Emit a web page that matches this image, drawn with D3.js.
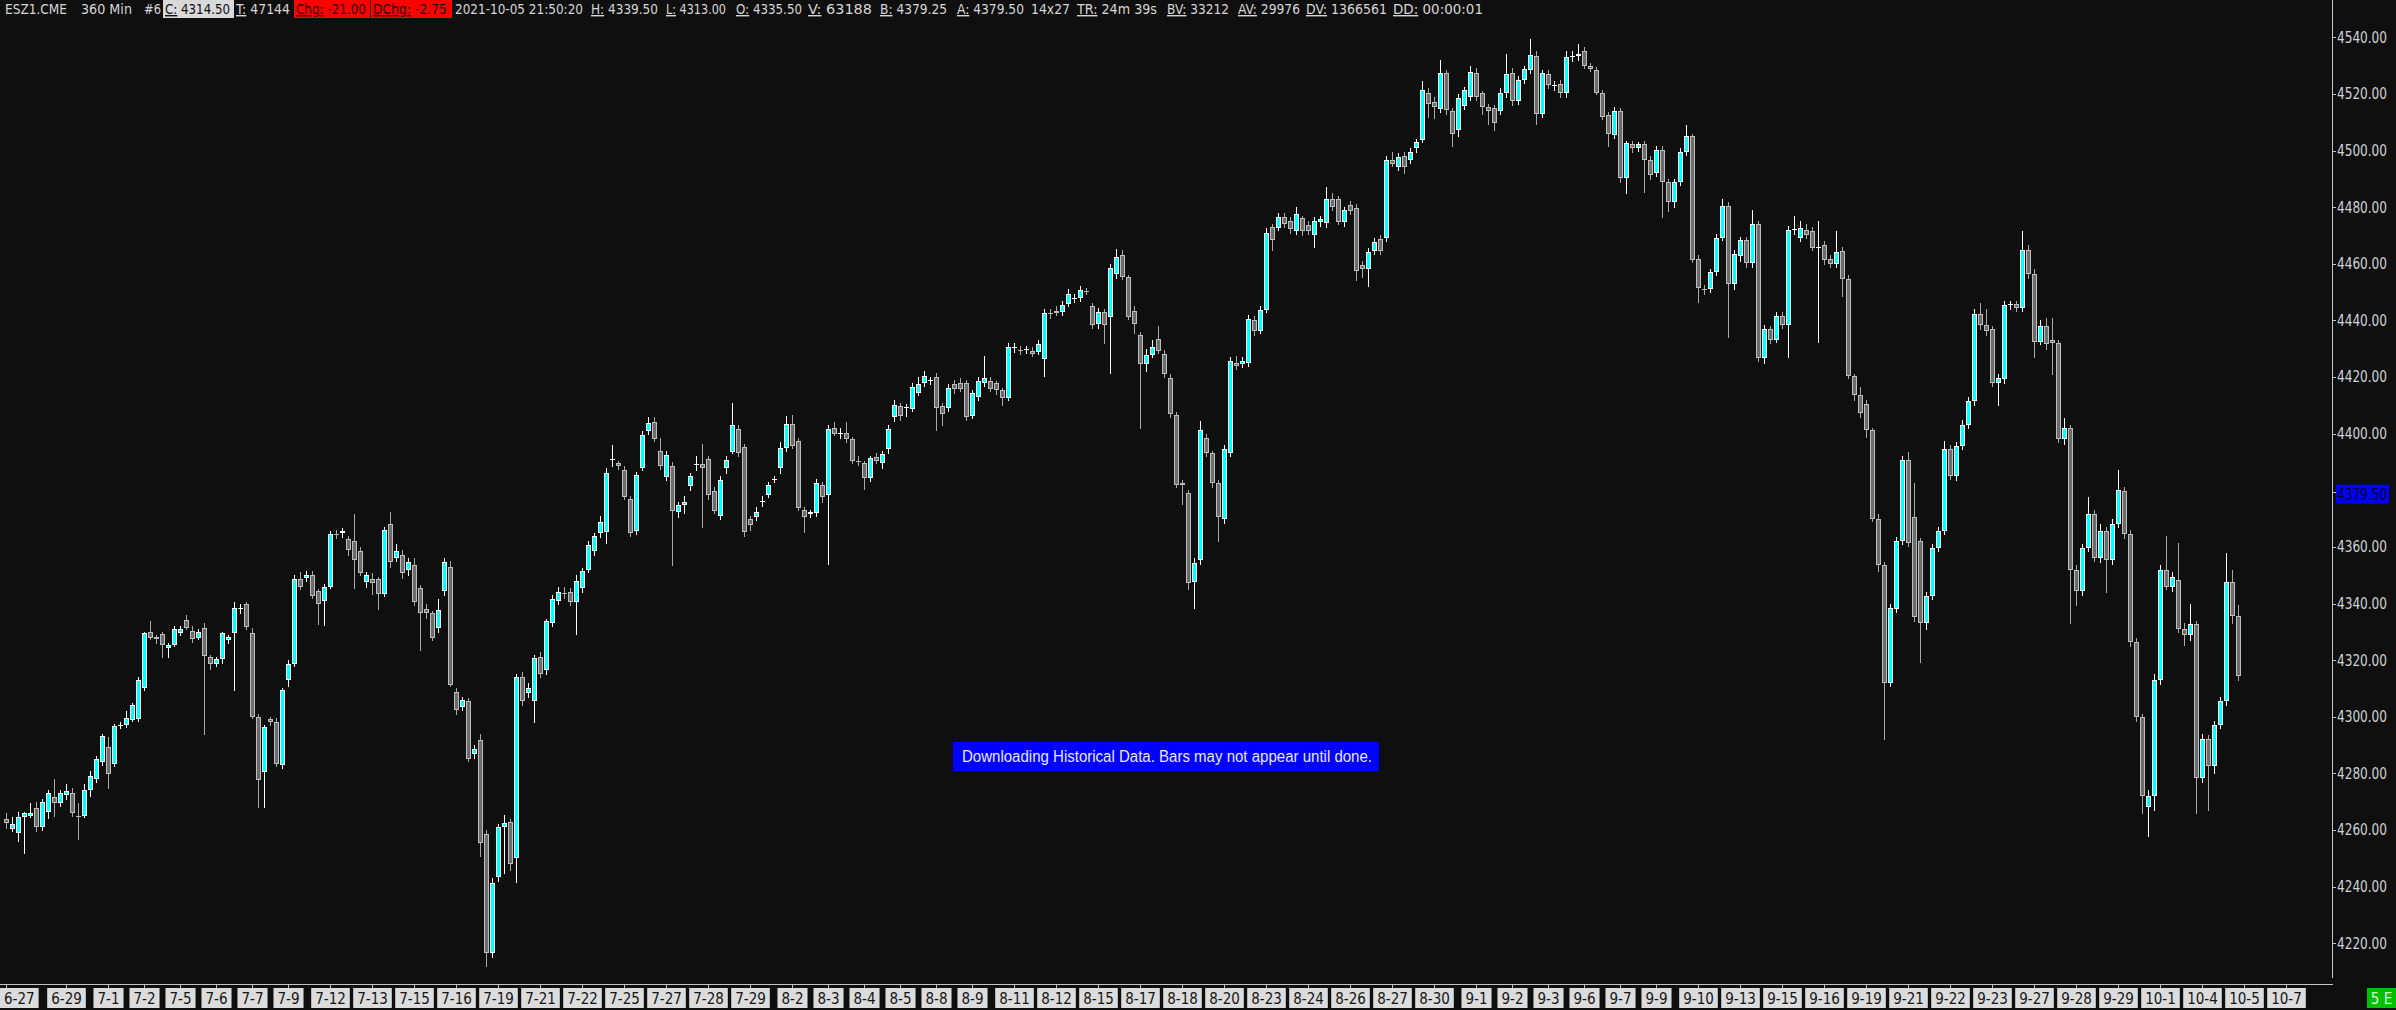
<!DOCTYPE html>
<html><head><meta charset="utf-8">
<script src="https://cdn.jsdelivr.net/npm/d3@7"></script>
<style>
html,body{margin:0;padding:0;background:#0f0f0f;overflow:hidden}
svg{display:block}
</style></head><body>
<script>
// ---------- DATA ----------
const opens = [4264,4260.25,4259,4264.5,4265,4267.75,4261,4266.5,4271.5,4269.5,4272.5,4273.25,4265,4265,4274.25,4278,4284,4289.25,4283.5,4296.75,4297,4299,4299.25,4310,4330,4328.25,4329.25,4324.25,4325.5,4329.5,4334.25,4330.25,4328,4331.5,4321,4318.75,4320.5,4327.25,4329.5,4338.25,4339.75,4329.75,4300,4280.5,4299.25,4298.25,4283,4313,4318.75,4348.75,4349,4350,4344.5,4340.75,4346,4364.5,4365,4362.75,4362.25,4358.5,4347.75,4348.5,4348.5,4343.5,4368,4356.25,4357,4351.75,4353.5,4345.5,4338.25,4336.5,4331.5,4344.5,4353,4308.75,4303.5,4305.5,4286.75,4291.75,4258.75,4216.5,4243.5,4261.25,4263,4250.25,4314,4308.5,4305.5,4321,4316.5,4333.25,4341,4343.75,4344,4340.5,4345.5,4351.75,4358.5,4364.75,4365.25,4390.75,4389.5,4387,4377,4365.5,4387.75,4401,4404.25,4394,4384.75,4388.75,4372.25,4374.75,4381.5,4389,4389.25,4391,4379.75,4371,4387.75,4393.5,4401.75,4395.25,4370,4370.5,4376,4378.5,4383.75,4387.75,4395,4403.5,4397.5,4373,4371.75,4372,4381.75,4378.5,4402,4400,4400.25,4398.25,4390.5,4389.5,4384.25,4391.75,4389.5,4394.5,4405.75,4409.75,4409,4408.75,4414.5,4418,4418.75,4420,4409.75,4409,4417.5,4417.75,4417.75,4406.25,4413,4417.75,4418.75,4417.75,4415.25,4412.75,4430.25,4429.5,4429.5,4429.25,4428.75,4426.25,4442.75,4443.5,4443,4445.75,4447.75,4447.75,4450.5,4445,4438.75,4443,4441.25,4456.25,4463,4455.5,4443.5,4435,4424.75,4427.75,4433.5,4428.25,4419.5,4406.5,4382.5,4379,4347.5,4355.5,4398.5,4393,4382.5,4370,4393,4425,4424.5,4425,4440,4436.25,4443.75,4473,4472.5,4476.5,4475,4471.5,4476.25,4473.75,4470,4474.75,4474.25,4482.75,4482.75,4474.75,4480.75,4479.75,4459.5,4458,4464.5,4468.75,4469,4496.75,4494.25,4498,4496.5,4500.75,4503.75,4520.5,4517,4514.5,4527.25,4514,4507.25,4515.75,4519,4527.25,4520.25,4515.25,4515,4514,4520.25,4527.25,4517.5,4525,4528.5,4533.5,4513,4527,4523,4523.5,4520.25,4533,4533.5,4535.25,4530,4528.5,4520.5,4512.5,4505.5,4514,4490.25,4502.25,4500.75,4502.25,4496.75,4492,4500.25,4488.75,4481.75,4488.75,4499.5,4505,4461.75,4451,4451,4457,4469.25,4480.5,4452.75,4462.75,4468.25,4460.25,4474,4426.75,4437,4433.25,4441.5,4438.5,4472,4469.25,4472,4471.5,4465.75,4466.5,4461.75,4460,4464.5,4454.75,4420.25,4413.75,4410.5,4401.25,4370,4353.5,4312,4338.25,4362,4390.75,4370.5,4362,4333,4342.75,4359.75,4365.5,4394.75,4385,4395.75,4403,4411.5,4442.25,4438.5,4437,4418,4419.25,4445.5,4445.75,4444.5,4465,4456.5,4432.5,4438,4433.25,4432,4398,4402,4352,4344.5,4359.75,4371.5,4356,4365.5,4355.5,4368.25,4379.75,4364.5,4326.5,4300,4268.25,4272,4313,4352,4346,4348.25,4331,4328.75,4332.75,4278.5,4292,4282.75,4297,4305.5,4347.5,4335.5];
const highs = [4266,4264.5,4266.5,4266.25,4269.5,4270,4271,4274,4278,4274,4276.25,4274.75,4269.5,4276.25,4280.75,4286,4294,4293,4297.5,4298,4302,4305,4314,4330,4334,4329,4330,4326,4332,4332,4336,4332,4331,4333,4322,4321,4330,4329,4340.5,4340,4340.5,4331.5,4301,4297,4300,4299.5,4310,4320,4350,4351,4351.5,4351.5,4345,4347,4365.5,4366,4366.75,4364,4371.5,4360,4351,4350.75,4349.5,4367,4372.5,4361,4359,4356,4356,4346.5,4340,4337.5,4341.75,4356,4355,4310,4307,4306.5,4290,4294,4260,4243,4262,4265.25,4264,4315,4316,4312,4322,4323,4334.5,4343,4346,4346,4345.5,4350,4352.5,4362,4365,4371,4388,4396,4390.5,4388.5,4378,4386.5,4401,4405.75,4406,4398.5,4394,4390,4376,4378,4386,4392.25,4396.25,4392,4381,4385,4392,4410.75,4403,4396.5,4371,4374,4378,4383,4385,4397,4406.25,4406.75,4398.5,4374,4373,4384,4383,4403,4404,4402,4404,4399,4392,4390.5,4392,4393,4394,4403,4412,4411,4410.5,4418,4420,4422,4420,4421.5,4411,4417.5,4419,4419.5,4419,4415.5,4420,4427.5,4420,4418.5,4416,4432,4432,4431,4431,4430.5,4433.25,4444,4444,4445,4447,4451,4449.5,4452,4451.5,4446,4444.5,4444,4460,4465.25,4465,4456,4445,4436,4430,4433,4438,4429.5,4421,4407.5,4383.5,4380,4356,4404.5,4400,4394,4383.5,4396,4427,4427.5,4427,4442,4441.5,4445,4472.5,4474,4478,4478,4476.5,4480,4477,4475,4476.5,4477,4487.25,4485,4484,4480,4482.25,4481,4461,4465.5,4469,4470,4498,4499.5,4499,4499.5,4501,4504,4524.5,4522,4519,4532,4528.5,4515,4520,4522.5,4530,4529,4521,4516.5,4516,4522,4534.25,4529,4526.5,4530,4539.5,4535,4528.5,4528.5,4524.5,4525,4535,4535,4537.5,4536.5,4531,4529.5,4521.5,4513.5,4515.5,4515,4503.5,4503.5,4503,4503.5,4498,4501.5,4501.5,4490,4490,4501,4509,4506,4463,4452.5,4458,4470.5,4482.75,4482,4465,4469.5,4469.5,4479,4475,4438.5,4438,4443,4443,4473.5,4477,4475,4474,4473,4475,4468,4463,4471.5,4466,4456,4421,4416.5,4412,4402,4371.5,4354.5,4340,4363.5,4392,4393.5,4382.75,4363,4344,4361,4367,4397.25,4396,4397,4405,4413,4444,4446,4444,4438,4421,4447,4447,4447,4471.5,4466.5,4458,4440,4441,4440.75,4433,4405.5,4403,4353.5,4361,4377.5,4373,4368,4367,4370,4387.25,4381,4366,4328,4301,4274,4315,4353.5,4364,4351,4361.25,4333,4340,4334,4294,4293.5,4298.5,4307,4358,4352,4339.5];
const lows = [4260.75,4259.75,4256.25,4252,4264.5,4259.75,4260,4264.25,4265,4268.5,4271,4265,4257,4264.5,4272,4277,4283,4274.75,4282.5,4296,4296.5,4298.5,4298.5,4309.5,4327.5,4326,4321,4321,4325,4329,4331,4326.5,4327.5,4293.75,4317,4318,4319,4326,4309.5,4336.5,4331,4299.5,4268.25,4268.25,4297,4282.5,4282,4311,4318,4345,4348,4342,4332.75,4332.5,4345.5,4363,4363.5,4357,4345.5,4350,4346,4343.25,4338.25,4342.5,4353,4355,4349,4350,4339.5,4323.75,4335,4327,4330,4343,4311,4301,4302.5,4284.5,4285.5,4251,4212,4215,4242,4245,4245.75,4241.5,4304,4307,4298.25,4314,4315,4332,4340,4342,4339.5,4329.25,4344,4351,4357,4363.5,4361.5,4388.5,4387.5,4377,4364,4364.5,4387,4400,4397.5,4387.5,4383.5,4353.5,4370.5,4372,4380,4387,4367,4377,4372,4370,4386,4393,4392,4364,4366,4369.5,4374.5,4377.5,4383,4386,4394,4395,4373,4365.25,4370.5,4371,4376,4354,4399.5,4398.5,4397,4389.5,4389,4380.5,4383.25,4389.5,4388,4393,4404.5,4405,4406.25,4408,4413.5,4417,4417.5,4401.25,4403,4408,4414.5,4415,4405,4405.5,4412,4417,4415,4414,4410.25,4412,4429,4428,4428.5,4427.5,4428,4420.25,4441,4442,4442,4445,4446.5,4447,4449.5,4437.5,4437.5,4432,4421.5,4455,4454.5,4440.5,4435.5,4402,4422,4427,4428.5,4420,4406,4381,4375.25,4345,4338.5,4354,4392,4381,4362.25,4368.5,4392,4423,4423.5,4424,4435,4435.5,4443,4465,4472,4473,4471,4470.5,4470,4470.5,4466,4473.5,4473,4479,4474,4473.5,4477.5,4454.25,4455.25,4452,4463.5,4463.5,4468,4494.5,4493,4492,4495.5,4499.5,4503,4512,4511.5,4513.5,4513,4501.75,4505,4514.5,4518,4518,4513,4509.25,4507.25,4513,4519,4516,4516.5,4524,4527.5,4509.5,4512,4522,4521.5,4519,4519,4531.5,4532,4529,4528,4520,4511,4501.75,4504.5,4489,4485,4499.5,4500,4485.5,4490,4491,4476.5,4478.5,4480,4488,4498.5,4460.5,4446.5,4449.5,4450,4456,4468.5,4434,4451,4461,4459,4459,4425.5,4425,4432,4432.5,4437.5,4427.25,4470.5,4468,4469,4465,4432.5,4460,4459,4459,4448.75,4419.5,4412,4406,4399,4369,4351.5,4292,4311,4337,4361,4360.5,4334,4319.5,4331,4341.5,4358.5,4364.5,4384,4383.5,4394.5,4402,4410,4437,4435,4417,4410,4418,4444,4443.5,4443.5,4455,4427.25,4431.5,4430,4421,4397,4396.5,4333,4339.5,4343,4358.5,4355,4354.5,4344,4354,4367,4363,4325,4298.5,4266,4257.75,4267,4311.5,4345,4344.5,4330,4325.5,4327,4266,4277,4267.25,4280,4296,4304,4333,4313];
const closes = [4262.5,4262,4264.5,4266,4266,4261,4270,4273,4269.5,4273.25,4273.75,4266,4264.75,4274.25,4279,4285,4293.25,4279.75,4296.75,4297,4299.5,4304,4313,4329.5,4328,4327.5,4325.5,4325.25,4331,4331,4331.5,4327.5,4330,4321.5,4318.75,4320.25,4329.5,4328.25,4338.5,4338.5,4331.75,4300,4277.75,4296.25,4298.25,4283.25,4309.5,4318.75,4348.75,4346,4350.25,4342.75,4339.75,4346,4364.5,4364.25,4365.5,4358.75,4355.25,4350.75,4350.25,4347.25,4343.5,4366,4354.5,4358.5,4350.75,4354.75,4340.5,4336.5,4336.75,4327.75,4337.75,4354.75,4311.25,4302.25,4306,4285,4288.5,4255.5,4216.75,4241.25,4261.25,4262.5,4248,4314,4305.75,4310,4320.75,4315.25,4333.75,4341.5,4344.25,4343.5,4340.5,4348,4351.5,4360.75,4364,4368.75,4386,4391,4388.75,4377.5,4365,4385.5,4399.5,4403.75,4398.25,4388.75,4392.5,4372.75,4374.75,4375.75,4385,4389.25,4388,4378.25,4372.75,4383.5,4390.75,4403,4393.25,4365.25,4367.75,4372.5,4376.25,4382,4384,4395,4403.5,4395.5,4373.75,4370.5,4372.5,4382.5,4377.5,4401.75,4400,4400.25,4398,4390.5,4390.25,4384.25,4391.25,4390.5,4392.75,4401.75,4410,4406.25,4409.25,4416.5,4417.5,4420.25,4419,4409,4407,4416.25,4415.75,4415.75,4406,4414.25,4418.75,4419.75,4415.75,4415.25,4412.5,4430.5,4430.5,4429.25,4429.75,4428.25,4431.5,4442.75,4442.5,4442.75,4445.5,4449.5,4448,4450.75,4450.25,4438.25,4443,4438.25,4458.5,4462.5,4455.5,4441.25,4438.75,4424.75,4427.75,4430.75,4429.25,4421,4407,4381.75,4381.75,4347.25,4354.25,4401.25,4393,4382.5,4370.5,4394.75,4425.5,4424,4425.5,4440.5,4436.25,4443.75,4471,4468.25,4476.5,4474,4472.25,4477.5,4471.5,4471.5,4475.25,4475.75,4482.75,4480,4474.75,4479,4478.5,4457.5,4458,4464.25,4467.75,4464.5,4496.5,4495.25,4497.75,4494.25,4499.5,4503,4521.25,4516.5,4515.5,4527.25,4514.25,4506,4518.5,4521.25,4527.75,4519,4515.5,4514,4509.75,4520.5,4527,4517.5,4525,4528.75,4533.75,4513,4527.25,4523,4523.25,4520.25,4533,4533.25,4534,4530,4528.75,4520.5,4512,4506,4514,4490.25,4502.5,4500.75,4502.25,4496.75,4491.5,4500.25,4488.75,4481.75,4488.75,4499.5,4505,4461.25,4451.5,4450.75,4457,4469.25,4480.5,4452.75,4463.5,4468.25,4460.25,4474,4426.75,4437,4433.25,4441.5,4438.5,4472,4472.25,4472.5,4470,4465.75,4466,4461.25,4460,4464,4454.75,4420.25,4413.75,4407.25,4401.25,4370,4353.5,4312,4338.5,4362,4390.75,4361.25,4335.25,4333,4342.75,4359.75,4365.5,4394.75,4385,4395.75,4403,4411.5,4442.25,4438.5,4436.25,4418,4419.5,4445.5,4445.75,4444.5,4465,4456.5,4432.5,4438,4431.5,4432,4398,4402,4352,4344.5,4359.75,4371.5,4356.25,4365.5,4355.5,4368.25,4380,4364.5,4326.5,4300,4272,4272,4313,4352,4346,4349.25,4331,4328.75,4332.75,4278.5,4292,4282.75,4297,4305.5,4347.5,4335.5,4314.5];

const yTicks = [4220,4240,4260,4280,4300,4320,4340,4360,4380,4400,4420,4440,4460,4480,4500,4520,4540];
const yTickHide = [4380];
const currentPrice = 4379.50;
const xLabels = ["6-27","6-29","7-1","7-2","7-5","7-6","7-7","7-9","7-12","7-13","7-15","7-16","7-19","7-21","7-22","7-25","7-27","7-28","7-29","8-2","8-3","8-4","8-5","8-8","8-9","8-11","8-12","8-15","8-17","8-18","8-20","8-23","8-24","8-26","8-27","8-30","9-1","9-2","9-3","9-6","9-7","9-9","9-10","9-13","9-15","9-16","9-19","9-21","9-22","9-23","9-27","9-28","9-29","10-1","10-4","10-5","10-7"];
const xLabelBars = [0,10,17,23,29,35,41,47,54,61,68,75,82,89,96,103,110,117,124,131,137,143,149,155,161,168,175,182,189,196,203,210,217,224,231,238,245,251,257,263,269,275,282,289,296,303,310,317,324,331,338,345,352,359,366,373,380];

const headerLabels = ["","","","C:","T:","Chg:","DChg:","","H:","L:","O:","V:","B:","A:","","TR:","BV:","AV:","DV:","DD:"];
const headerValues = ["ESZ1.CME","360 Min","#6"," 4314.50"," 47144"," -21.00"," -2.75","2021-10-05 21:50:20"," 4339.50"," 4313.00"," 4335.50"," 63188"," 4379.25"," 4379.50","14x27"," 24m 39s"," 33212"," 29976"," 1366561"," 00:00:01"];
const noticeText = "Downloading Historical Data. Bars may not appear until done.";

// ---------- LAYOUT ----------
const W = 2396, H = 1010;
const headerX = [5,81,144,165,236,296,373,455,591,666,736,808,880,957,1031,1077,1167,1238,1306,1393];
const headerW = [62,51,17,65,54,70,74,128,67,60,66,64,67,67,39,80,62,62,81,90];
const headerBoxes = {3:{x0:163,x1:234,fill:"#d9d9d9",fg:"#111"},5:{x0:294,x1:370,fill:"#ff0000",fg:"#2a0000"},6:{x0:371,x1:452,fill:"#ff0000",fg:"#2a0000"}};
const FONT = "'Liberation Sans Narrow','Arial Narrow','DejaVu Sans Condensed',sans-serif";

const svg = d3.select("body").append("svg").attr("width",W).attr("height",H);
svg.append("rect").attr("width",W).attr("height",H).attr("fill","#0f0f0f");

const x = d3.scaleLinear().domain([0,380]).range([6,2286]);
const y = d3.scaleLinear().domain([4220,4540]).range([943.3,37.3]);

// axes lines
const axisX = 2332;
svg.append("line").attr("x1",axisX+0.5).attr("x2",axisX+0.5).attr("y1",0).attr("y2",978).attr("stroke","#c4c4c4");
svg.append("line").attr("x1",0).attr("x2",axisX+1).attr("y1",984.5).attr("y2",984.5).attr("stroke","#c4c4c4");

// y ticks & labels
const yg = svg.append("g");
yTicks.filter(t=>!yTickHide.includes(t)).forEach(t=>{
  const yy = Math.round(y(t))+0.5;
  yg.append("line").attr("x1",axisX+1).attr("x2",axisX+4).attr("y1",yy).attr("y2",yy).attr("stroke","#c4c4c4");
  yg.append("text").attr("x",axisX+5).attr("y",y(t)).attr("dy","0.36em")
    .attr("fill","#d2d2d2").attr("font-family",FONT).attr("font-size",15)
    .attr("textLength",50).attr("lengthAdjust","spacingAndGlyphs")
    .text(d3.format(".2f")(t));
});
// current price label
{
  const yy = y(currentPrice);
  yg.append("line").attr("x1",axisX+1).attr("x2",axisX+4).attr("y1",Math.round(yy)+0.5).attr("y2",Math.round(yy)+0.5).attr("stroke","#c4c4c4");
  yg.append("rect").attr("x",axisX+4).attr("y",yy-7).attr("width",53).attr("height",19).attr("fill","#0000ff");
  yg.append("text").attr("x",axisX+5).attr("y",yy+2.5).attr("dy","0.36em")
    .attr("fill","#000022").attr("font-family",FONT).attr("font-size",15)
    .attr("textLength",50).attr("lengthAdjust","spacingAndGlyphs")
    .text(d3.format(".2f")(currentPrice));
}

// x ticks & labels
const xg = svg.append("g");
xLabels.forEach((lab,k)=>{
  const cx = Math.round(x(xLabelBars[k]));
  xg.append("line").attr("x1",cx+0.5).attr("x2",cx+0.5).attr("y1",985).attr("y2",988).attr("stroke","#c4c4c4");
  const t = xg.append("text").attr("y",1003.5).attr("fill","#141414")
    .attr("font-family",FONT).attr("font-size",15).attr("text-anchor","middle").text(lab);
  const w = t.node().getComputedTextLength()+8;
  let bx = cx+0.5-w/2;
  if (bx < 0) bx = 0;
  t.attr("x",bx+w/2);
  xg.insert("rect","text").attr("x",bx).attr("y",988).attr("width",w).attr("height",20).attr("fill","#dcdcdc");
});
xg.selectAll("rect").lower();

// status box
svg.append("rect").attr("x",2367).attr("y",988).attr("width",29).attr("height",20).attr("fill","#00c000");
svg.append("text").attr("x",2381.5).attr("y",1003.5).attr("text-anchor","middle").attr("fill","#d8ffd8")
  .attr("font-family",FONT).attr("font-size",15).text("5 E");

// candles
const cg = svg.append("g");
closes.forEach((c,i)=>{
  const o = opens[i], h = highs[i], l = lows[i];
  const cx = Math.round(x(i));
  const up = c >= o;
  const wickCol = up ? "#ffffff" : "#a8a8a8";
  cg.append("line").attr("x1",cx+0.5).attr("x2",cx+0.5)
    .attr("y1",Math.round(y(h))).attr("y2",Math.round(y(l))+1).attr("stroke",wickCol);
  const top = Math.round(y(Math.max(o,c))), bot = Math.round(y(Math.min(o,c)));
  if (bot - top < 2) {
    cg.append("line").attr("x1",cx-2).attr("x2",cx+3).attr("y1",top+0.5).attr("y2",top+0.5)
      .attr("stroke", up ? "#ffffff" : "#b8b8b8");
  } else {
    cg.append("rect").attr("x",cx-1.5).attr("y",top+0.5).attr("width",4).attr("height",bot-top-1)
      .attr("fill", up ? "#00ffff" : "#6c6c6c").attr("stroke", up ? "#ffffff" : "#bdbdbd");
  }
});

// notice box
svg.append("rect").attr("x",953).attr("y",742).attr("width",426).attr("height",29).attr("fill","#0000ff");
svg.append("text").attr("x",962).attr("y",762).attr("fill","#e8e8ff")
  .attr("font-family","'Liberation Sans',Arial,sans-serif").attr("font-size",16)
  .attr("textLength",410).attr("lengthAdjust","spacingAndGlyphs").text(noticeText);

// header
const hg = svg.append("g");
headerValues.forEach((v,k)=>{
  const b = headerBoxes[k];
  if (b) hg.append("rect").attr("x",b.x0).attr("y",0).attr("width",b.x1-b.x0).attr("height",18).attr("fill",b.fill);
  const t = hg.append("text").attr("x",headerX[k]).attr("y",14).attr("font-family",FONT).attr("font-size",14)
    .attr("fill", b ? b.fg : "#d6d6d6")
    .attr("textLength",headerW[k]).attr("lengthAdjust","spacingAndGlyphs");
  if (headerLabels[k]) t.append("tspan").attr("text-decoration","underline").text(headerLabels[k]);
  t.append("tspan").text(v);
});
</script>
</body></html>
